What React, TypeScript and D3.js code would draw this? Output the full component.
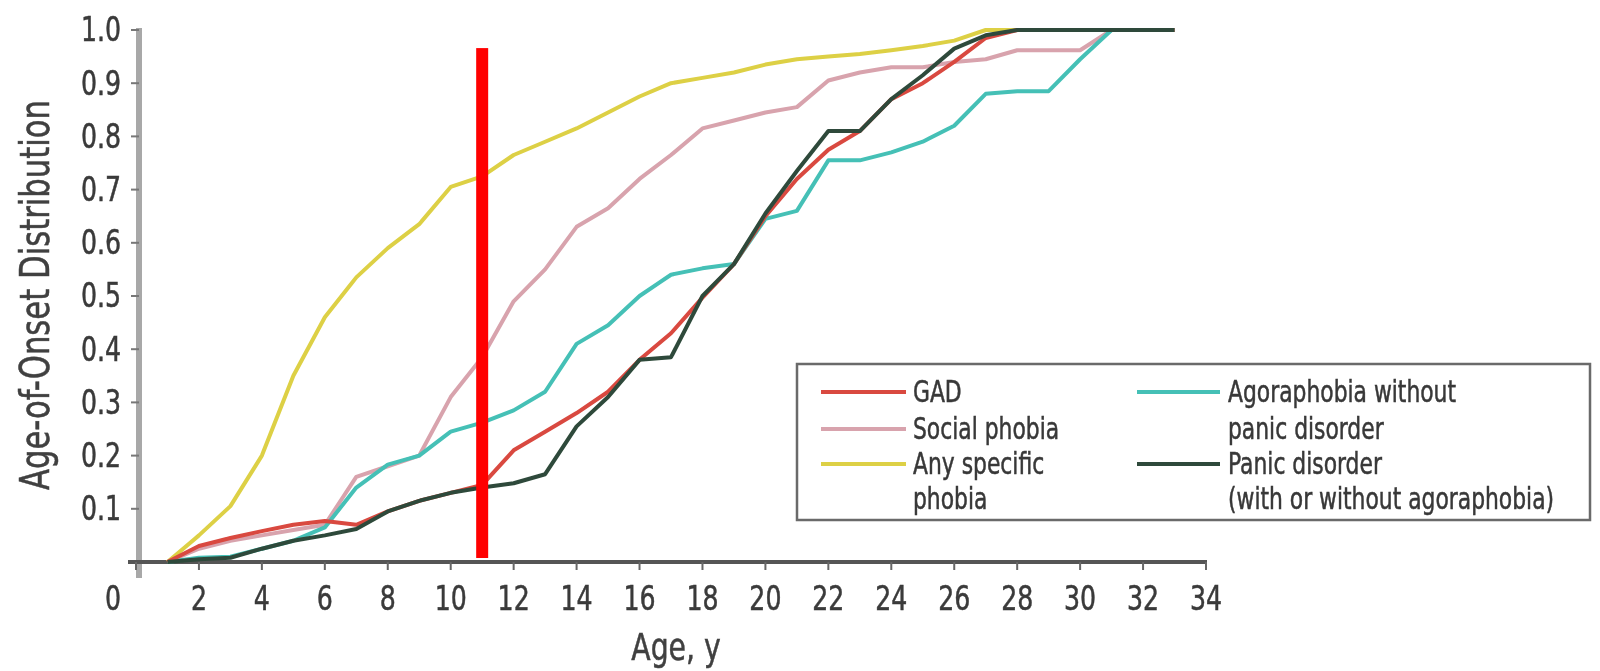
import React from 'react';
import * as d3 from 'd3';

// ---- Data ----
const ages = [1, 2, 3, 4, 5, 6, 7, 8, 9, 10, 11, 12, 13, 14, 15, 16, 17, 18, 19, 20, 21, 22, 23, 24, 25, 26, 27, 28, 29, 30, 31, 32, 33];

const gad = [0, 0.03, 0.045, 0.058, 0.07, 0.077, 0.07, 0.095, 0.115, 0.13, 0.145, 0.21, 0.245, 0.28, 0.32, 0.38, 0.43, 0.497, 0.56, 0.65, 0.72, 0.775, 0.81, 0.87, 0.9, 0.94, 0.985, 1, 1, 1, 1, 1, 1];
const socialPhobia = [0, 0.025, 0.04, 0.05, 0.06, 0.07, 0.16, 0.18, 0.2, 0.31, 0.385, 0.49, 0.55, 0.63, 0.665, 0.72, 0.765, 0.815, 0.83, 0.845, 0.855, 0.905, 0.92, 0.93, 0.93, 0.94, 0.945, 0.962, 0.962, 0.962, 1, 1, 1];
const specificPhobia = [0, 0.05, 0.105, 0.2, 0.35, 0.46, 0.535, 0.59, 0.635, 0.705, 0.725, 0.765, 0.79, 0.815, 0.845, 0.875, 0.9, 0.91, 0.92, 0.935, 0.945, 0.95, 0.955, 0.962, 0.97, 0.98, 1, 1, 1, 1, 1, 1, 1];
const agoraphobia = [0, 0.008, 0.01, 0.025, 0.04, 0.065, 0.14, 0.183, 0.2, 0.245, 0.262, 0.285, 0.32, 0.41, 0.445, 0.5, 0.54, 0.552, 0.56, 0.645, 0.66, 0.755, 0.755, 0.77, 0.79, 0.82, 0.88, 0.885, 0.885, 0.945, 1, 1, 1];
const panicDisorder = [0, 0.005, 0.008, 0.025, 0.04, 0.05, 0.062, 0.095, 0.115, 0.13, 0.14, 0.148, 0.165, 0.255, 0.31, 0.38, 0.385, 0.5, 0.56, 0.655, 0.735, 0.81, 0.81, 0.87, 0.915, 0.965, 0.99, 1, 1, 1, 1, 1, 1];

const xTicks = [0, 2, 4, 6, 8, 10, 12, 14, 16, 18, 20, 22, 24, 26, 28, 30, 32, 34];
const yTicks = [0.1, 0.2, 0.3, 0.4, 0.5, 0.6, 0.7, 0.8, 0.9, 1.0];

const markerAge = 11;
const markerRange = [0.0075, 0.966];

const colors: Record<string, string> = {
  gad: '#d9483f',
  social: '#d8a3ad',
  specific: '#ddd045',
  agora: '#45c0b6',
  panic: '#2e4a3a',
};

const seriesOrder = [
  { key: 'specific', values: specificPhobia },
  { key: 'social', values: socialPhobia },
  { key: 'agora', values: agoraphobia },
  { key: 'gad', values: gad },
  { key: 'panic', values: panicDisorder },
];

const legendLeft = [
  { key: 'gad', lines: ['GAD'] },
  { key: 'social', lines: ['Social phobia'] },
  { key: 'specific', lines: ['Any specific', 'phobia'] },
];
const legendRight = [
  { key: 'agora', lines: ['Agoraphobia without', 'panic disorder'] },
  { key: 'panic', lines: ['Panic disorder', '(with or without agoraphobia)'] },
];

const FONT = "'Liberation Sans Narrow', 'DejaVu Sans Condensed', 'Arial Narrow', sans-serif";

type NTProps = {
  x: number;
  y: number;
  sx: number;
  size: number;
  anchor?: 'start' | 'middle' | 'end';
  baseline?: string;
  fill?: string;
  children: React.ReactNode;
};

function NarrowText({ x, y, sx, size, anchor = 'start', baseline, fill = '#3a3a3a', children }: NTProps) {
  return (
    <text
      transform={`translate(${x},${y}) scale(${sx},1)`}
      textAnchor={anchor}
      dominantBaseline={baseline as any}
      fontSize={size}
      fill={fill}
      stroke={fill}
      strokeWidth={0.5}
      fontFamily={FONT}
    >
      {children}
    </text>
  );
}

export default function App() {
  const W = 1600;
  const H = 671;
  const x = d3.scaleLinear().domain([0, 34]).range([136, 1206]);
  const y = d3.scaleLinear().domain([0, 1]).range([562, 30]);
  const line = d3
    .line<number>()
    .x((_, i) => x(ages[i]))
    .y((d) => y(d))
    .curve(d3.curveLinear);
  const fmt = d3.format('.1f');

  const rowY = [392, 429, 464, 499];

  const renderLegendCol = (items: typeof legendLeft, lx1: number, lx2: number, tx: number) => {
    let row = 0;
    const out: React.ReactNode[] = [];
    items.forEach((it) => {
      const ly = rowY[row];
      out.push(<line key={it.key + 'l'} x1={lx1} x2={lx2} y1={ly} y2={ly} stroke={colors[it.key]} strokeWidth={4} />);
      it.lines.forEach((t, j) => {
        out.push(
          <NarrowText key={it.key + 't' + j} x={tx} y={rowY[row + j]} sx={0.81} size={30} baseline="central" fill="#383838">
            {t}
          </NarrowText>
        );
      });
      row += it.lines.length;
    });
    return out;
  };

  return (
    <svg width={W} height={H} style={{ position: 'absolute', left: 0, top: 0, display: 'block', background: '#fff' }}>
      <defs>
        <filter id="soft" x="-5%" y="-5%" width="110%" height="110%">
          <feGaussianBlur stdDeviation="0.7" />
        </filter>
      </defs>
      <rect width={W} height={H} fill="#fff" />
      <g filter="url(#soft)">
        {/* y axis */}
        <line x1={139} x2={139} y1={28} y2={578} stroke="#a8a8a8" strokeWidth={6} />
        {yTicks.map((t) => (
          <g key={'y' + t}>
            <line x1={131} x2={139} y1={y(t)} y2={y(t)} stroke="#777" strokeWidth={2} />
            <NarrowText x={121} y={y(t)} sx={0.85} size={33} anchor="end" baseline="central" fill="#3a3a3a">
              {fmt(t)}
            </NarrowText>
          </g>
        ))}
        {/* x axis */}
        <line x1={128} x2={1207} y1={y(0)} y2={y(0)} stroke="#555" strokeWidth={4} />
        {xTicks.map((t) => (
          <g key={'x' + t}>
            <line x1={x(t)} x2={x(t)} y1={y(0)} y2={y(0) + 8} stroke="#666" strokeWidth={2} />
            <NarrowText x={t === 0 ? x(t) - 23 : x(t)} y={610} sx={0.85} size={33} anchor="middle" fill="#3a3a3a">
              {t}
            </NarrowText>
          </g>
        ))}
        <text
          transform="translate(49,295) rotate(-90)"
          textAnchor="middle"
          fontSize={40}
          fill="#404040"
          stroke="#404040"
          strokeWidth={0.5}
          fontFamily={FONT}
          textLength={390}
          lengthAdjust="spacingAndGlyphs"
        >
          Age-of-Onset Distribution
        </text>
        <NarrowText x={676} y={660} sx={0.85} size={37} anchor="middle" fill="#404040">
          Age, y
        </NarrowText>

        {/* series */}
        {seriesOrder.map((s) => (
          <path key={s.key} d={line(s.values) || ''} fill="none" stroke={colors[s.key]} strokeWidth={4} strokeLinejoin="round" />
        ))}

        {/* legend */}
        <rect x={797} y={364} width={793} height={156} fill="#fff" stroke="#6a6a6a" strokeWidth={2.5} />
        {renderLegendCol(legendLeft, 821, 906, 913)}
        {renderLegendCol(legendRight, 1137, 1220, 1228)}
      </g>
      {/* red marker */}
      <rect x={x(markerAge) - 6} width={12} y={y(markerRange[1])} height={y(markerRange[0]) - y(markerRange[1])} fill="#ff0000" />
    </svg>
  );
}
